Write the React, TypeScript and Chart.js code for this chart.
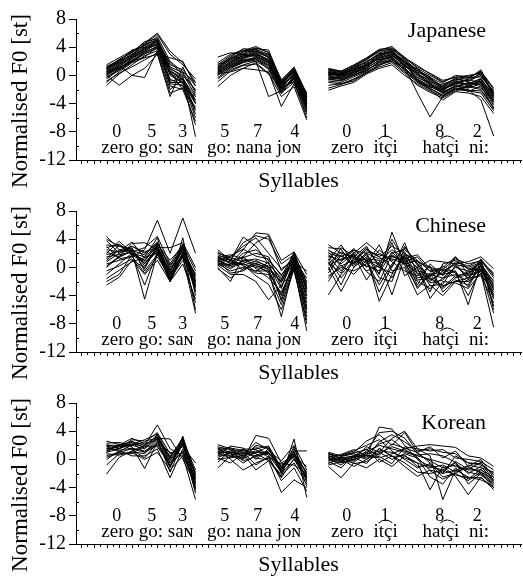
import React, { useEffect, useRef } from 'react';
import { Chart, registerables } from 'chart.js';
Chart.register(...registerables);

// x positions (in axis-tick units) of the first point of each word group; points are 2 ticks apart
const GROUP_START = [4.8, 22.3, 39.7];
const POINT_STEP = 2;
const X_MAX = 70;
const Y_TICKS_MINOR = [6, 2, -2, -6, -10];

const DIGITS = [
  { t: '0', x: 6.4 }, { t: '5', x: 11.9 }, { t: '3', x: 16.8 },
  { t: '5', x: 23.4 }, { t: '7', x: 28.6 }, { t: '4', x: 34.4 },
  { t: '0', x: 42.6 }, { t: '1', x: 48.6 }, { t: '8', x: 57.2 }, { t: '2', x: 63.1 },
];
const WORDS = [
  { t: 'zero go: saɴ', x: 11.2 },
  { t: 'go: nana joɴ', x: 28.0 },
  { t: 'zero', x: 42.7 },
  { t: 'itçi', x: 48.7, tie: [1, 3] },
  { t: 'hatçi', x: 57.4, tie: [2, 4] },
  { t: 'ni:', x: 63.4 },
];

// ---------- Japanese ----------
const JP_G1: number[][] = [
  [0.5, 1.5, 2.5, 3.5, 4.5, 0.5, -0.5, -3.0],
  [1.0, 2.0, 3.0, 4.0, 5.0, 1.0, 0.0, -2.0],
  [0.0, 1.0, 2.2, 3.2, 4.2, -1.0, -1.0, -4.0],
  [1.2, 2.2, 3.3, 4.3, 5.5, 2.0, 0.5, -1.0],
  [-0.5, 0.8, 2.0, 3.0, 4.0, -0.5, -1.5, -5.0],
  [0.8, 1.8, 2.8, 4.5, 5.8, 3.0, 1.5, -0.5],
  [-1.4, 0.2, 1.5, 2.8, 3.5, -2.0, -0.5, -3.5],
  [0.3, 1.2, 2.5, 3.6, 4.8, 0.0, -1.0, -6.0],
  [1.5, 2.5, 3.5, 4.2, 5.2, 1.5, 0.8, -1.5],
  [0.0, -1.4, 0.0, -0.3, 3.5, 0.5, -2.0, -4.5],
  [-1.0, 0.5, 1.8, 2.5, 3.0, -3.0, 1.2, -2.5],
  [0.6, 1.6, 2.6, 3.8, 4.4, 1.0, -0.2, -8.7],
  [1.0, 2.3, 3.2, 4.8, 5.2, 0.3, -1.2, -3.5],
  [0.2, 1.0, 2.0, 2.6, 4.0, -1.5, -2.0, -6.5],
  [-0.3, 0.9, 2.4, 3.4, 4.6, 1.8, 0.2, -2.8],
  [1.3, 2.0, 3.6, 4.0, 4.8, 0.8, -0.8, -4.8],
  [0.4, 1.4, 0.0, 1.0, 3.0, 2.5, 2.0, -1.5],
  [0.7, 1.9, 3.0, 4.4, 5.0, -0.8, -0.5, -5.5],
  [-0.8, 0.3, 1.2, 2.2, 3.2, -2.5, -1.8, -3.0],
  [0.9, 2.1, 3.4, 4.6, 6.0, 3.4, 1.8, -1.0],
  [0.1, 1.3, 2.7, 3.9, 4.3, 0.2, -0.6, -4.0],
  [1.1, 1.7, 2.9, 3.7, 4.9, 1.2, 0.4, -2.2],
  [-0.2, 0.7, 1.9, 3.1, 3.8, -1.2, -1.4, -7.0],
  [0.5, 1.1, 2.1, 3.3, 4.1, 0.6, -0.3, -3.8],
];
const JP_G2: number[][] = [
  [0.5, 1.8, 2.5, 3.0, 2.0, -1.5, 0.0, -3.5],
  [1.0, 2.2, 3.0, 3.5, 2.5, -1.0, 0.5, -3.0],
  [0.0, 1.2, 2.0, 2.5, 1.5, -2.0, -0.5, -4.5],
  [1.5, 2.8, 3.5, 4.1, 3.2, -0.6, 1.0, -2.8],
  [-0.5, 0.8, 1.5, 2.0, 1.0, -2.5, -1.0, -5.0],
  [2.6, 3.2, 3.0, 2.8, 1.8, -1.8, 0.2, -4.0],
  [-1.6, 0.0, 1.0, 1.8, 0.3, -3.0, -1.6, -6.3],
  [0.8, 2.0, 2.8, 3.2, 2.2, -1.2, 0.8, -3.2],
  [0.3, 1.5, 2.2, 2.0, -3.0, -2.2, -0.4, -4.2],
  [1.2, 2.5, 3.3, 3.8, 3.6, -0.8, 0.6, -2.5],
  [0.2, 0.5, 1.0, 0.8, 0.5, -4.4, -1.2, -5.5],
  [0.6, 1.6, 2.4, 2.9, 2.3, -1.6, 0.3, -3.8],
  [1.8, 3.0, 3.6, 3.3, 2.6, -0.9, 0.9, -3.0],
  [-0.3, 1.0, 1.8, 2.2, 1.2, -2.2, -0.2, -4.8],
  [0.9, 2.3, 2.7, 3.4, 2.9, -1.3, 0.4, -3.6],
  [0.4, 1.3, 2.1, 2.6, 1.7, -1.9, -0.8, -6.0],
  [1.3, 2.6, 3.8, 3.6, 2.7, -0.7, 1.2, -2.6],
  [0.1, 1.1, 1.9, 2.4, 0.8, -2.6, -0.3, -5.2],
  [0.7, 1.9, 2.6, 3.1, 2.1, -1.4, 0.1, -4.3],
  [1.1, 2.4, 3.1, 3.7, 3.0, -1.1, 0.7, -3.4],
  [-0.9, 0.6, 1.4, 1.6, 0.2, -1.8, -0.9, -4.0],
  [0.5, 1.7, 2.9, 2.7, 1.9, -2.4, 0.0, -3.9],
  [1.6, 2.1, 3.4, 3.9, 3.3, -1.0, 0.5, -3.1],
  [0.2, 1.4, 2.3, 2.3, 1.4, -1.7, -0.6, -4.6],
];
const JP_G3: number[][] = [
  [0.0, -0.2, 0.5, 1.2, 2.5, 3.0, 1.5, 0.0, -1.0, -2.0, -1.0, -1.2, -0.5, -3.0],
  [0.5, 0.3, 1.0, 2.0, 3.0, 3.5, 2.0, 0.5, -0.5, -1.5, -0.5, -0.8, 0.0, -2.5],
  [-0.5, -0.8, 0.0, 0.8, 1.8, 2.4, 1.0, -0.5, -1.5, -2.5, -1.5, -1.8, -1.2, -4.0],
  [1.0, 0.6, 1.5, 2.5, 3.7, 3.9, 2.6, 1.0, 0.0, -1.0, 0.0, -0.2, 0.5, -2.0],
  [-2.1, -1.5, -1.0, 0.2, 1.0, 1.5, 0.0, -1.2, -2.2, -3.0, -2.0, -2.2, -2.5, -5.0],
  [0.2, 0.0, 0.6, 1.5, 2.8, 3.3, 1.2, 1.0, -0.8, -1.8, -1.2, -0.5, 0.8, -2.8],
  [-0.3, -0.4, 0.3, 1.0, 2.2, 2.8, 1.8, 0.2, -1.2, -2.2, -0.8, -1.5, -1.8, -3.5],
  [0.7, 0.4, 1.2, 1.8, 3.2, 3.6, 1.2, -2.5, -5.9, -3.0, -2.0, -1.5, -1.0, -3.5],
  [-1.0, -1.2, -0.5, 0.5, 1.5, 2.0, 0.5, -1.0, -2.0, -3.5, -2.3, -2.5, -3.0, -5.4],
  [0.3, 0.1, 0.8, 1.6, 2.6, 3.1, 2.2, 0.8, -0.3, -1.2, -0.6, -0.3, -0.2, -2.2],
  [-0.8, -1.0, -0.2, 0.6, 2.0, 2.6, 0.6, -0.8, -1.8, -2.8, -1.8, -2.0, -3.5, -8.6],
  [0.4, 0.2, 1.3, 2.2, 3.4, 3.8, 2.4, 1.2, 0.3, -0.7, -0.3, 0.0, 0.3, -2.4],
  [0.0, -0.6, 0.2, 1.4, 2.4, 2.9, 1.4, -0.2, -1.3, -2.1, -1.1, -1.4, -0.8, -3.2],
  [-1.4, -1.2, -0.8, 0.4, 1.2, 1.8, 0.3, -1.4, -2.4, -3.2, -2.2, -1.6, -2.0, -4.5],
  [0.8, 0.5, 1.1, 2.3, 3.5, 3.7, 2.3, 0.6, -0.4, -1.7, -0.9, -0.6, 0.2, -2.6],
  [-0.2, -0.3, 0.4, 1.1, 2.1, 2.7, 1.6, -0.6, -1.6, -2.4, -1.4, -2.3, -1.5, -4.2],
  [0.6, 0.2, 0.9, 1.9, 2.9, 3.3, 1.9, 0.3, -0.9, -1.4, -0.4, -0.9, 0.4, -3.0],
  [-0.6, -0.7, 0.1, 0.9, 1.6, 2.2, 0.8, -0.3, -1.1, -2.6, -1.7, -1.1, -1.4, -4.8],
  [0.1, 0.3, 0.7, 1.3, 2.7, 3.4, 1.7, 0.1, -0.6, -1.9, -1.3, -1.7, -0.6, -3.3],
  [-1.8, -1.3, -0.6, 0.3, 1.4, 2.3, 1.1, -0.9, -1.9, -2.9, -1.9, -2.1, -2.2, -4.6],
  [0.9, 0.6, 1.4, 2.4, 3.6, 4.1, 2.5, 1.4, 0.2, -0.9, -0.2, -0.4, 0.6, -1.8],
  [0.2, -0.1, 0.5, 1.7, 2.3, 2.5, 1.3, 0.4, -1.4, -2.3, -1.6, -1.0, -1.1, -3.8],
  [-0.4, -0.5, 0.0, 0.7, 1.9, 2.0, 0.9, -0.7, -1.7, -1.6, -0.7, -1.3, -0.4, -2.9],
  [0.4, 0.0, 0.9, 1.5, 3.1, 3.2, 2.0, 0.7, -0.2, -2.0, -1.0, -0.7, -0.9, -3.6],
];

// ---------- Chinese ----------
const ZH_G1: number[][] = [
  [4.4, 2.5, 2.0, 1.0, 3.0, -0.5, 2.5, -1.0],
  [3.2, 3.0, 2.5, 0.5, 2.8, -1.5, 3.0, -2.0],
  [2.5, 2.2, 3.0, 2.0, 3.5, 0.0, 3.2, -0.5],
  [1.5, 1.8, 2.2, -4.5, 2.0, -2.0, 2.0, -3.0],
  [0.5, 1.0, 1.5, 2.5, 6.7, 2.0, 7.0, 2.0],
  [-2.5, -1.4, 1.0, 0.0, 3.0, -1.0, 1.5, -6.5],
  [-1.0, 0.5, 2.0, 1.5, 4.2, -2.0, 4.2, -4.0],
  [3.8, 2.0, 2.8, -0.5, 1.8, -1.2, 2.8, -2.5],
  [0.0, 1.5, 3.4, 3.5, 2.5, -0.8, 1.4, -5.0],
  [2.0, 3.7, 2.0, 1.0, 3.3, 1.0, 3.0, -1.5],
  [-2.0, -1.0, 1.8, -2.5, 2.2, -1.8, 1.8, -3.3],
  [1.0, 2.5, 2.4, 1.8, 3.6, -0.3, 2.4, -2.0],
  [3.0, 1.2, 1.6, -0.8, 1.5, -1.5, 1.0, -0.8],
  [0.8, 2.0, 3.0, 2.2, 2.8, 2.8, 3.5, 0.0],
  [2.8, 3.3, 2.0, 0.8, 2.4, -0.7, 3.2, -2.8],
  [-0.5, 0.2, 1.2, -1.0, 1.0, -2.0, 0.5, -4.5],
  [1.8, 2.3, 3.6, 1.3, 3.4, 0.3, 2.6, -1.2],
  [4.0, 3.0, 2.6, 0.2, 2.6, -1.6, 2.2, -2.2],
  [0.2, 1.6, 2.2, 2.8, 4.4, 0.5, 3.3, -3.5],
  [-1.6, -0.4, 0.8, 1.4, 2.0, -1.0, 2.0, -1.8],
  [2.2, 1.4, 2.4, -0.2, 3.2, -2.0, 1.6, -2.6],
  [1.2, 3.2, 1.8, 0.6, 2.2, -0.4, 2.9, -6.0],
];
const ZH_G2: number[][] = [
  [1.0, 0.0, 1.0, 0.5, 0.0, -2.0, 1.5, -3.0],
  [0.5, -0.5, 0.0, -0.5, -0.5, -4.0, 1.0, -5.0],
  [2.5, 1.0, 3.5, 4.5, 4.0, 0.5, 1.8, -2.0],
  [1.5, 0.5, 2.5, 4.9, 4.7, 1.0, 2.2, -1.0],
  [0.0, -2.0, 1.5, 3.5, 4.5, -0.5, 1.5, -4.0],
  [1.2, 0.8, 0.5, 0.0, -0.5, -7.0, 0.5, -6.0],
  [0.8, 1.2, 0.2, -0.8, -1.0, -5.3, 0.0, -9.0],
  [1.8, 1.0, 4.3, 3.0, 0.5, -1.5, 1.2, -2.5],
  [0.3, -1.0, -1.0, -2.0, -4.6, -2.5, -0.5, -7.5],
  [1.4, 1.8, 1.2, 0.8, 0.2, -3.0, 2.0, -3.5],
  [0.6, 0.4, 2.0, 2.5, 1.0, -1.0, 0.8, -0.5],
  [2.0, 1.4, 0.8, 0.2, -0.2, -4.5, 1.2, -5.5],
  [0.9, -0.8, -0.5, 1.0, 0.0, -2.2, 1.6, -4.5],
  [1.1, 0.2, 1.6, -0.2, -1.5, -3.5, 0.2, -6.5],
  [0.2, 1.5, 3.0, 4.2, 2.0, -0.2, 1.0, -1.5],
  [1.6, 0.6, 0.4, -1.2, -2.4, -6.0, -0.2, -8.0],
  [0.7, -0.2, 0.9, 1.2, 0.6, -1.8, 2.2, -2.8],
  [1.3, 1.1, -0.4, 0.4, -0.8, -3.8, 0.6, -5.8],
  [2.2, 0.9, 1.4, 2.0, 1.5, -2.8, 1.4, -3.2],
  [0.4, 0.3, 0.6, -0.6, 0.8, -4.8, 0.4, -7.0],
  [1.0, 1.6, 2.6, 1.6, 1.2, -1.2, 1.9, -2.2],
  [-0.2, -1.5, -0.2, 0.6, -0.3, -2.0, 0.9, -4.0],
];
const ZH_G3: number[][] = [
  [2.0, 1.5, 2.5, 1.0, 0.5, 1.5, 1.0, -0.5, -1.0, -1.5, 0.0, -0.5, 0.5, -2.0],
  [3.2, 2.0, 1.5, 3.0, 0.0, 2.0, 2.5, 1.0, -0.5, 0.0, 1.5, -1.0, 1.0, -1.0],
  [1.0, 3.2, 0.5, 2.0, -1.0, 5.0, 0.5, -2.0, -3.0, -1.5, -1.0, -2.0, 0.0, -3.0],
  [-3.9, -1.0, 1.0, 2.5, 1.5, 0.0, 3.5, -1.0, -2.0, -0.5, -0.5, -5.3, 0.5, -4.0],
  [0.0, -3.4, 0.0, 1.5, -4.8, -1.0, 2.0, 0.5, -1.5, -3.0, -1.5, -1.0, -0.5, -6.5],
  [1.8, 0.5, 2.0, 3.5, 2.0, 1.0, 1.5, 0.0, 1.0, 0.8, 0.5, 0.8, 1.5, -0.2],
  [-1.2, 0.0, -0.5, 0.5, 3.2, -0.5, 0.0, -3.9, -2.5, -4.0, -2.0, -1.5, -1.2, -5.0],
  [2.5, 1.0, 1.8, -1.8, 0.8, 2.5, 1.2, 1.8, -0.2, -1.0, 0.8, 0.2, 1.0, -1.5],
  [0.5, 2.2, 1.2, 0.2, -0.5, 3.5, -1.2, 0.0, -4.4, -2.0, -2.2, -3.0, -0.8, -8.5],
  [1.2, -1.5, 0.8, 1.2, 1.0, -3.9, 1.5, -2.5, 0.5, -1.2, 1.5, -0.3, 0.6, -2.5],
  [-2.0, 0.8, 2.7, 0.8, -2.5, 0.5, 2.2, -1.5, -1.2, 0.2, -0.8, -4.0, -0.2, -3.5],
  [2.8, 2.6, 0.0, 2.2, 1.8, 1.2, 0.5, 1.0, -1.8, -0.8, 0.6, -1.8, 1.2, -1.2],
  [0.3, 1.2, 1.5, -0.5, 0.2, 4.0, 1.0, -3.0, -1.0, -2.8, -1.2, -0.8, 0.2, -4.5],
  [-0.8, 1.8, 0.3, 1.8, -1.5, -2.0, 2.8, 0.6, -2.2, -1.8, 0.2, -1.2, -0.6, -2.2],
  [1.5, -0.5, 2.2, 0.0, 2.5, 0.8, -0.5, -1.2, 0.2, -3.5, -1.8, -2.5, 0.8, -5.5],
  [2.2, 0.2, 1.0, 2.8, 0.3, -1.5, 1.8, -0.2, -3.5, 0.5, 1.0, -0.2, -0.4, -1.8],
  [-0.4, 2.8, 1.6, 0.6, -0.8, 2.2, 0.3, -2.8, -0.8, -1.0, -0.6, -2.8, 0.4, -3.2],
  [0.8, -2.5, 1.4, 1.0, -3.5, 0.2, 3.0, 0.3, -2.6, -2.4, 0.3, -1.5, 1.2, -6.0],
  [1.6, 1.0, 2.4, 2.0, 1.2, 1.6, 0.8, 1.5, -0.6, -0.3, 1.2, 0.5, 0.9, -0.8],
  [-1.5, 0.3, -1.0, 1.0, 0.0, -0.8, 1.6, -1.8, -1.5, -2.6, -2.0, -2.0, -0.9, -3.8],
  [2.4, 1.6, 0.6, 2.6, 1.5, 3.0, 2.0, 0.8, 0.0, -0.5, 0.4, 0.0, 0.7, -2.8],
  [0.6, -0.8, 1.9, -0.6, -2.0, 1.8, 0.6, -0.8, -1.3, -0.2, -1.4, -0.6, -0.3, -4.2],
];

// ---------- Korean ----------
const KO_G1: number[][] = [
  [1.5, 1.8, 2.0, 1.5, 3.0, 0.0, 2.5, -3.0],
  [2.0, 2.0, 2.5, 2.0, 3.3, -1.0, 3.0, -2.0],
  [0.5, 1.0, 1.5, 1.0, 2.0, -0.5, 1.0, -4.0],
  [-2.1, 0.3, 1.2, 2.0, 4.9, 1.5, 0.5, -5.7],
  [1.0, 1.5, 2.8, 2.6, 3.0, 2.9, 0.0, -3.5],
  [2.6, 2.1, 1.8, -1.3, 2.5, -1.0, 3.3, -2.5],
  [0.0, 1.2, 0.5, 0.5, 1.5, -2.6, 1.5, -4.5],
  [1.9, 1.5, 2.2, 1.8, 3.5, -0.5, 2.0, -2.8],
  [1.2, 2.0, 3.0, 2.2, 2.8, 0.5, 2.8, -1.5],
  [-0.8, 0.8, 1.0, 0.0, 1.0, -1.5, 0.5, -3.2],
  [1.6, 1.3, 1.6, 1.2, 2.2, -0.2, 2.2, -4.8],
  [2.3, 2.4, 2.0, 2.4, 3.8, 0.8, 1.8, -0.5],
  [0.8, 0.6, 1.1, 0.8, 2.6, -1.2, 2.6, -2.2],
  [1.3, 1.9, 2.6, 1.6, 3.2, 0.2, 3.1, -3.8],
  [0.3, 0.9, 0.8, 1.9, 1.8, -0.8, 1.2, -1.8],
  [2.1, 1.6, 2.4, 1.0, 2.9, -1.8, 2.4, -3.4],
  [1.0, 2.2, 1.4, 0.2, 2.4, 1.0, 0.8, -2.6],
  [1.8, 1.1, 2.1, 2.8, 3.6, 0.3, 2.9, -4.2],
];
const KO_G2: number[][] = [
  [1.0, 1.0, 0.5, 1.0, 1.0, -1.5, 0.5, -2.5],
  [2.1, 1.5, 1.0, 0.5, 0.8, -1.0, 1.0, -2.0],
  [0.5, 1.9, 1.6, 0.0, 1.5, -2.0, 0.0, -3.0],
  [-1.2, 0.5, 0.0, 3.4, 3.0, -0.5, 0.5, -1.0],
  [1.5, 0.0, -1.5, -0.5, 0.2, -2.5, 2.9, -5.4],
  [0.8, 1.2, 1.2, 1.5, 1.9, -1.2, 1.2, 1.2],
  [0.2, -0.5, 0.8, -1.5, -0.2, -4.7, -2.9, -4.0],
  [1.8, 1.4, 0.4, 1.8, 0.6, -1.8, 0.8, -2.8],
  [1.2, 0.8, -0.5, 0.6, 1.2, -0.2, 2.0, -1.5],
  [0.0, 0.3, 1.4, 0.8, -0.1, -2.2, -0.5, -3.5],
  [1.4, 1.7, 0.2, 2.0, 1.6, -1.4, 1.5, -2.2],
  [0.6, 0.6, 1.0, -0.8, 0.4, -3.0, -1.2, -4.5],
  [1.6, 1.0, 0.8, 1.2, 0.8, -0.8, 0.3, -2.6],
  [-0.4, 1.3, -0.2, 0.4, 1.0, -1.6, 1.8, -3.2],
  [0.9, 0.2, 0.6, 2.4, 1.4, -1.1, 0.7, -1.8],
  [1.1, 1.6, 1.3, 0.2, -0.1, -2.6, 0.1, -2.4],
  [0.3, 0.9, 0.1, 1.0, 1.8, -1.9, 1.1, -3.8],
  [1.7, 0.4, 1.5, 1.4, 0.3, -0.6, -0.8, -2.0],
];
const KO_G3: number[][] = [
  [0.5, 0.0, 0.5, 1.0, 2.0, 1.5, 1.0, 0.5, 0.0, -0.5, -1.0, -1.5, -1.5, -2.5],
  [0.0, -0.5, 0.0, 0.5, 4.6, 4.3, 2.0, 0.0, -1.0, -1.5, -0.5, -2.0, -1.0, -3.0],
  [1.0, 0.5, 1.0, 2.6, 3.5, 2.0, 3.8, 1.0, -0.5, -2.0, -1.5, -1.0, -2.0, -3.5],
  [-1.0, -2.6, -0.5, -1.2, 0.0, -1.0, 0.5, -0.5, -4.3, -1.0, -2.4, -5.0, -2.5, -4.3],
  [0.3, 0.7, 1.4, 0.5, 0.2, 0.8, 1.5, 1.9, 2.1, 1.9, 1.7, 0.5, 0.2, -1.0],
  [-0.5, 0.0, -1.0, 0.0, 1.0, 3.0, 4.0, 1.5, 0.5, -5.7, -1.5, -2.5, -2.9, -3.8],
  [0.8, 0.2, 0.5, 1.5, -0.4, 0.5, -1.0, -2.4, -1.5, -2.0, 0.5, -0.5, -0.8, -2.0],
  [0.2, -0.2, 0.2, 0.8, 1.2, 1.0, 0.2, -0.5, -1.2, -0.8, -1.8, -1.2, -1.8, -2.8],
  [-0.2, 0.4, 0.8, 0.2, 2.5, 3.5, 2.5, 1.2, 1.5, 1.0, 0.8, -0.5, -0.6, -2.2],
  [0.6, -0.4, 0.0, 1.8, 1.0, 0.0, 0.8, 0.2, -2.5, -3.5, -1.2, -2.8, -1.4, -3.2],
  [-0.6, 0.3, -0.6, -0.3, 0.8, 1.8, 1.2, 0.6, 0.8, 0.5, -0.4, -3.5, -2.0, -4.0],
  [0.4, 0.6, 1.2, 2.0, 2.8, 1.2, 0.0, -1.2, -0.6, -2.5, -2.0, -0.8, -1.2, -1.8],
  [0.1, -0.8, 0.4, 0.6, 0.4, -0.6, 1.8, 1.5, 1.2, 1.4, 0.2, 0.0, -0.3, -1.5],
  [0.9, 0.1, -0.2, 1.2, 3.8, 4.0, 3.0, 0.8, -0.2, -1.2, -0.8, -1.8, -2.2, -3.6],
  [-0.3, -1.2, 0.6, 0.0, 1.5, 0.5, -0.5, -1.8, -2.0, -1.5, -2.2, -2.6, -2.6, -4.0],
  [0.7, 0.5, 0.9, 1.4, 0.6, 2.2, 1.6, 1.0, 1.8, 0.2, 1.2, -1.0, 0.0, -2.6],
  [0.2, 0.0, 0.3, -0.6, 1.6, 0.4, 0.6, -1.0, -0.8, -1.8, -0.3, -1.4, -0.4, -3.0],
  [-0.8, -0.3, -0.4, 0.9, 2.2, 2.8, 1.4, 0.3, -1.6, -2.8, -2.0, -3.0, -1.8, -3.3],
];

const PANELS = [
  { name: 'Japanese', g: [JP_G1, JP_G2, JP_G3], titleY: 5.45 },
  { name: 'Chinese', g: [ZH_G1, ZH_G2, ZH_G3], titleY: 5.0 },
  { name: 'Korean', g: [KO_G1, KO_G2, KO_G3], titleY: 4.3 },
];

const SERIF = '"Liberation Serif", "Times New Roman", serif';

function buildDatasets(groups: number[][][]) {
  const n = groups[0].length;
  const out: any[] = [];
  for (let s = 0; s < n; s++) {
    const pts: any[] = [];
    groups.forEach((g, gi) => {
      const row = g[s] || [];
      row.forEach((v, k) => pts.push({ x: GROUP_START[gi] + POINT_STEP * k, y: v }));
      pts.push({ x: GROUP_START[gi] + POINT_STEP * row.length, y: null });
    });
    out.push({
      data: pts,
      borderColor: '#000',
      borderWidth: 1,
      pointRadius: 0,
      fill: false,
      tension: 0,
      spanGaps: false,
    });
  }
  return out;
}

function Panel({ name, groups, titleY }: { name: string; groups: number[][][]; titleY: number }) {
  const ref = useRef<HTMLCanvasElement | null>(null);
  useEffect(() => {
    if (!ref.current) return;
    const deco = {
      id: 'deco',
      afterDraw(chart: any) {
        const { ctx, chartArea, scales } = chart;
        const x = scales.x, y = scales.y;
        ctx.save();
        ctx.strokeStyle = '#000';
        ctx.fillStyle = '#000';
        ctx.lineWidth = 1;
        // x ticks
        for (let k = 0; ; k++) {
          const px = Math.round(x.getPixelForValue(0.8 + k)) + 0.5;
          if (px > chartArea.right + 3) break;
          const len = k % 2 === 0 ? 4 : 3;
          ctx.beginPath();
          ctx.moveTo(px, chartArea.bottom);
          ctx.lineTo(px, chartArea.bottom + len);
          ctx.stroke();
        }
        // y minor ticks (inward)
        Y_TICKS_MINOR.forEach((v) => {
          const py = Math.round(y.getPixelForValue(v)) + 0.5;
          ctx.beginPath();
          ctx.moveTo(chartArea.left, py);
          ctx.lineTo(chartArea.left + 3, py);
          ctx.stroke();
        });
        // y axis title
        ctx.save();
        ctx.translate(21, 101);
        ctx.rotate(-Math.PI / 2);
        ctx.font = '23px ' + SERIF;
        ctx.textAlign = 'center';
        ctx.textBaseline = 'middle';
        ctx.fillText('Normalised F0 [st]', 0, 0);
        ctx.restore();
        // x axis title
        ctx.font = '22px ' + SERIF;
        ctx.textAlign = 'center';
        ctx.textBaseline = 'alphabetic';
        ctx.fillText('Syllables', (chartArea.left + chartArea.right) / 2, 187);
        // language title
        ctx.font = '22px ' + SERIF;
        ctx.textAlign = 'right';
        ctx.fillText(name, x.getPixelForValue(64.5), y.getPixelForValue(titleY));
        // digits
        ctx.font = '18px ' + SERIF;
        ctx.textAlign = 'center';
        DIGITS.forEach((d) => ctx.fillText(d.t, x.getPixelForValue(d.x), y.getPixelForValue(-8.75)));
        // words
        ctx.font = '19px ' + SERIF;
        const wy = y.getPixelForValue(-11.0);
        WORDS.forEach((w: any) => {
          const cx = x.getPixelForValue(w.x);
          ctx.textAlign = 'center';
          ctx.fillText(w.t, cx, wy);
          if (w.tie) {
            const full = ctx.measureText(w.t).width;
            const left = cx - full / 2;
            const a = left + ctx.measureText(w.t.slice(0, w.tie[0])).width;
            const b = left + ctx.measureText(w.t.slice(0, w.tie[1])).width;
            const ty = wy - 14;
            ctx.beginPath();
            ctx.moveTo(a, ty);
            ctx.quadraticCurveTo((a + b) / 2, ty - 6, b, ty);
            ctx.stroke();
          }
        });
        ctx.restore();
      },
    };
    const chart = new Chart(ref.current, {
      type: 'line',
      data: { datasets: buildDatasets(groups) },
      options: {
        animation: false,
        responsive: false,
        events: [],
        layout: { padding: { left: 0, right: 2, top: 19, bottom: 0 } },
        plugins: { legend: { display: false }, tooltip: { enabled: false } },
        scales: {
          x: {
            type: 'linear',
            min: 0,
            max: X_MAX,
            ticks: { display: false },
            grid: { drawOnChartArea: false, drawTicks: false },
            border: { display: true, color: '#000', width: 1 },
            afterFit: (s: any) => { s.height = 32; },
          },
          y: {
            type: 'linear',
            min: -12,
            max: 8,
            ticks: { stepSize: 4, color: '#000', padding: 3, font: { family: SERIF, size: 20 } },
            grid: { drawOnChartArea: false, drawTicks: true, tickLength: 7, color: '#000' },
            border: { display: true, color: '#000', width: 1 },
            afterFit: (s: any) => { s.width = 76; },
          },
        },
      } as any,
      plugins: [deco],
    });
    return () => chart.destroy();
  }, [name, groups, titleY]);
  return <canvas ref={ref} width={523} height={192} style={{ width: 523, height: 192, display: 'block' }} />;
}

export default function App() {
  return (
    <div style={{ position: 'absolute', left: 0, top: 0, width: 523, height: 576, background: '#fff' }}>
      {PANELS.map((p, i) => (
        <div key={p.name} style={{ position: 'absolute', left: 0, top: i === 0 ? 0 : i === 1 ? 192 : 384, width: 523, height: 192 }}>
          <Panel name={p.name} groups={p.g} titleY={p.titleY} />
        </div>
      ))}
    </div>
  );
}
